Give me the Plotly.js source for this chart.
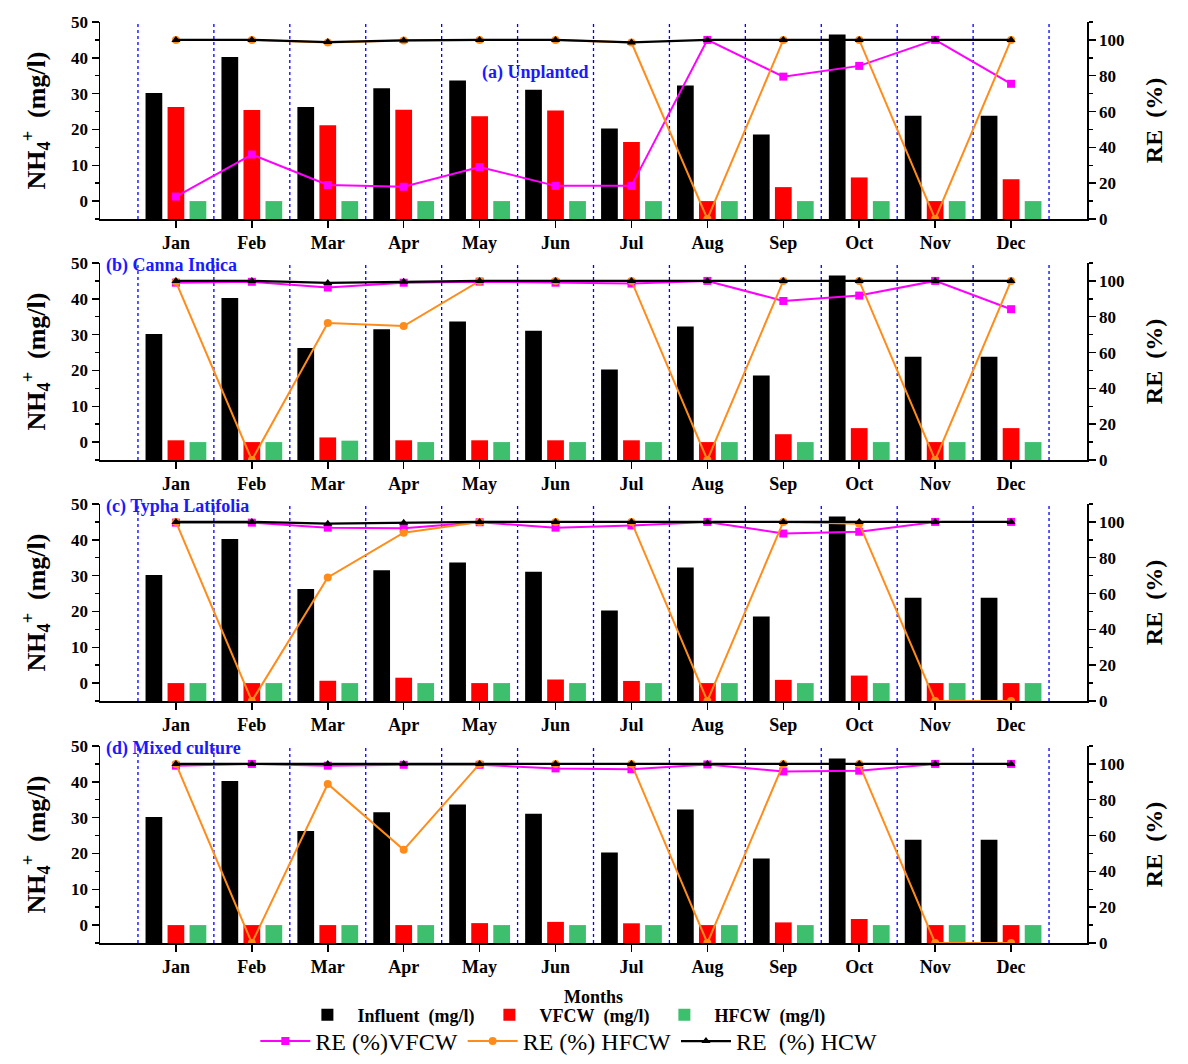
<!DOCTYPE html>
<html>
<head>
<meta charset="utf-8">
<script src="https://cdn.plot.ly/plotly-3.0.1.min.js"></script>
<style>html,body{margin:0;padding:0;background:#fff}#chart{width:1188px;height:1064px}</style>
</head>
<body>
<div id="chart"></div>
<script>
// ---------- data ----------
const months = ['Jan','Feb','Mar','Apr','May','Jun','Jul','Aug','Sep','Oct','Nov','Dec'];
const panelLabels = ['(a) Unplanted','(b) Canna Indica','(c) Typha Latifolia','(d) Mixed culture'];
const seriesNames = ['Influent\u00a0\u00a0(mg/l)', 'VFCW\u00a0\u00a0(mg/l)', 'HFCW\u00a0\u00a0(mg/l)',
                     'RE (%)VFCW', 'RE (%) HFCW', 'RE\u00a0\u00a0(%) HCW'];

const influent = [30.2, 40.2, 26.3, 31.5, 33.7, 31.1, 20.3, 32.3, 18.6, 46.5, 23.8, 23.8];

const vfcwA = [26.3, 25.4, 21.2, 25.5, 23.7, 25.3, 16.5, 0, 3.9, 6.6, 0, 6.1];
const hfcwA = [0, 0, 0, 0, 0, 0, 0, 0, 0, 0, 0, 0];
const reVfcwA = [12.5, 36, 19, 18, 29, 18.5, 18.5, 100, 79.5, 85.5, 100, 75.5];
const reHfcwA = [100, 100, 98.5, 99.7, 100, 100, 98.5, 0, 100, 100, 0, 100];
const reHcwA = [100, 100, 98.8, 99.7, 100, 100, 98.6, 100, 100, 100, 100, 100];

const vfcwB = [0.5, 0, 1.3, 0.5, 0.5, 0.5, 0.5, 0, 2.2, 3.9, 0, 3.9];
const hfcwB = [0, 0, 0.4, 0, 0, 0, 0, 0, 0, 0, 0, 0];
const reVfcwB = [99, 99.5, 96.3, 99, 99.6, 99, 98.5, 100, 88.8, 91.8, 100, 84.2];
const reHfcwB = [99.5, 0, 76.5, 74.8, 100, 100, 100, 0, 100, 100, 0, 100];
const reHcwB = [100, 100, 98.9, 99.5, 100, 100, 100, 100, 100, 100, 100, 100];

const vfcwC = [0, 0, 0.65, 1.5, 0, 1.0, 0.6, 0, 0.9, 2.1, 0, 0];
const hfcwC = [0, 0, 0, 0, 0, 0, 0, 0, 0, 0, 0, 0];
const reVfcwC = [99.6, 99.6, 96.8, 96.5, 99.8, 96.8, 98, 100, 93.5, 94.5, 100, 100];
const reHfcwC = [100, 0, 69, 94, 100, 100, 100, 0, 100, 99, 0, 0];
const reHcwC = [100, 100, 99, 99.5, 100, 100, 100, 100, 100, 100, 100, 100];

const vfcwD = [0, 0, 0, 0, 0.55, 0.9, 0.5, 0, 0.75, 1.7, 0, 0];
const hfcwD = [0, 0, 0, 0, 0, 0, 0, 0, 0, 0, 0, 0];
const reVfcwD = [99, 100, 99, 99.5, 99.5, 97.5, 97, 99.7, 95.8, 96.2, 100, 100];
const reHfcwD = [100, 0, 88.8, 52, 100, 100, 100, 0, 100, 100, 0, 0];
const reHcwD = [100, 100, 100, 100, 100, 100, 100, 100, 100, 100, 100, 100];

const vfcwAll = [vfcwA, vfcwB, vfcwC, vfcwD];
const hfcwAll = [hfcwA, hfcwB, hfcwC, hfcwD];
const reVfcwAll = [reVfcwA, reVfcwB, reVfcwC, reVfcwD];
const reHfcwAll = [reHfcwA, reHfcwB, reHfcwC, reHfcwD];
const reHcwAll = [reHcwA, reHcwB, reHcwC, reHcwD];

// ---------- style ----------
const FONT = 'Liberation Serif, Times New Roman, serif';
const nhRange = [-5, 50];
const reRange = [0, 110];
const W = 1188, H = 1064;
const panelPx = [[22, 219], [263, 460], [504, 701], [746, 943]];
const colInfl = '#000000', colV = '#ff0000', colH = '#3dbf6e';
const colReV = '#ff00ff', colReH = '#ff8c1a', colReC = '#000000';

const xPos = months.map((m, i) => i + 1);
// month boundaries (blue dotted separators)
const bounds = [0, ...xPos].map(v => v + 0.5);

const traces = [];
const layout = {
  width: W, height: H,
  margin: {l: 100, r: 101, t: 0, b: 0},
  paper_bgcolor: '#fff', plot_bgcolor: 'rgba(0,0,0,0)',
  font: {family: FONT, color: '#000'},
  barmode: 'group', bargap: 0.13, bargroupgap: 0.24,
  showlegend: true,
  legend: {orientation: 'h', x: 0.47, xanchor: 'center', y: 1 - 1015 / H, yanchor: 'middle',
           font: {family: FONT, size: 18, weight: 'bold'}, bgcolor: 'rgba(0,0,0,0)', itemwidth: 50},
  legend2: {orientation: 'h', x: 0.475, xanchor: 'center', y: 0, yanchor: 'bottom',
           font: {family: FONT, size: 24}, bgcolor: 'rgba(0,0,0,0)', itemwidth: 50},
  annotations: [],
  shapes: [],
  hovermode: false
};

for (let p = 0; p < 4; p++) {
  const xs = p === 0 ? '' : String(p + 1);
  const xa = 'x' + xs, ya = 'y' + xs, yr = 'y' + (p + 5);
  const dom = [1 - panelPx[p][1] / H, 1 - panelPx[p][0] / H];

  layout['xaxis' + xs] = {
    domain: [0, 1], anchor: ya, range: [0, months.length + 1],
    tickmode: 'array', tickvals: xPos, ticktext: months,
    ticks: 'outside', ticklen: 7, tickwidth: 1.5, tickcolor: '#000',
    showline: true, linecolor: '#000', linewidth: 1.5, mirror: false,
    showgrid: false, zeroline: false, automargin: false,
    tickfont: {family: FONT, size: 18, weight: 'bold'},
    fixedrange: true
  };
  if (p === 3) {
    layout['xaxis' + xs].title = {text: 'Months', font: {family: FONT, size: 18, weight: 'bold'}, standoff: 14};
  }
  layout['yaxis' + xs] = {
    domain: dom, anchor: xa, range: nhRange,
    tickmode: 'linear', tick0: 0, dtick: 10,
    ticks: 'outside', ticklen: 7, tickwidth: 1.5, tickcolor: '#000',
    minor: {tickmode: 'linear', tick0: -5, dtick: 5, ticks: 'outside', ticklen: 4, tickcolor: '#000'},
    showline: true, linecolor: '#000', linewidth: 1.5,
    showgrid: false, zeroline: false, automargin: false,
    tickfont: {family: FONT, size: 17, weight: 'bold'},
    title: {text: 'NH<sub>4</sub><sup>+</sup>\u00a0\u00a0(mg/l)', font: {family: FONT, size: 26, weight: 'bold'}, standoff: 18},
    fixedrange: true
  };
  layout['yaxis' + (p + 5)] = {
    overlaying: ya, anchor: xa, side: 'right', range: reRange,
    tickmode: 'linear', tick0: 0, dtick: 20,
    ticks: 'outside', ticklen: 7, tickwidth: 1.5, tickcolor: '#000',
    minor: {tickmode: 'linear', tick0: 0, dtick: 10, ticks: 'outside', ticklen: 4, tickcolor: '#000'},
    showline: true, linecolor: '#000', linewidth: 1.5,
    showgrid: false, zeroline: false, automargin: false,
    tickfont: {family: FONT, size: 17, weight: 'bold'},
    title: {text: 'RE\u00a0\u00a0(%)', font: {family: FONT, size: 24, weight: 'bold'}, standoff: 22},
    fixedrange: true
  };

  bounds.forEach(b => {
    layout.shapes.push({type: 'line', xref: xa, yref: ya + ' domain', x0: b, x1: b, y0: 0, y1: 1,
      line: {color: '#0000ff', width: 1.3, dash: 'dot'}, layer: 'below'});
  });

  const barSpec = [
    [seriesNames[0], influent, colInfl],
    [seriesNames[1], vfcwAll[p], colV],
    [seriesNames[2], hfcwAll[p], colH]
  ];
  barSpec.forEach((b, k) => {
    traces.push({
      type: 'bar', name: b[0], x: xPos, y: b[1].map(v => v - nhRange[0]), base: nhRange[0],
      xaxis: xa, yaxis: ya, offsetgroup: String(k), legendgroup: b[0], showlegend: p === 0,
      legend: 'legend', marker: {color: b[2], line: {width: 0}}
    });
  });

  const lineSpec = [
    [seriesNames[3], reVfcwAll[p], colReV, 'square', 2],
    [seriesNames[4], reHfcwAll[p], colReH, 'circle', 2],
    [seriesNames[5], reHcwAll[p], colReC, 'triangle-up', 2.2]
  ];
  lineSpec.forEach(l => {
    traces.push({
      type: 'scatter', mode: 'lines+markers', name: l[0], x: xPos, y: l[1],
      xaxis: xa, yaxis: yr, legendgroup: l[0], showlegend: p === 0, legend: 'legend2',
      line: {color: l[2], width: l[4]}, marker: {color: l[2], symbol: l[3], size: 8}
    });
  });
}

// panel labels
layout.annotations.push({xref: 'x', yref: 'y', x: 5.0, y: 36, xanchor: 'left', yanchor: 'middle',
  text: panelLabels[0], showarrow: false, font: {family: FONT, size: 18, weight: 'bold', color: '#1a1aff'}});
for (let p = 1; p < 4; p++) {
  const s = String(p + 1);
  layout.annotations.push({xref: 'x' + s, yref: 'y' + s, x: 0.05, y: 49.3, xanchor: 'left', yanchor: 'middle',
    text: panelLabels[p], showarrow: false, font: {family: FONT, size: 18, weight: 'bold', color: '#1a1aff'}});
}

Plotly.newPlot('chart', traces, layout, {displayModeBar: false, staticPlot: true});
</script>
</body>
</html>
